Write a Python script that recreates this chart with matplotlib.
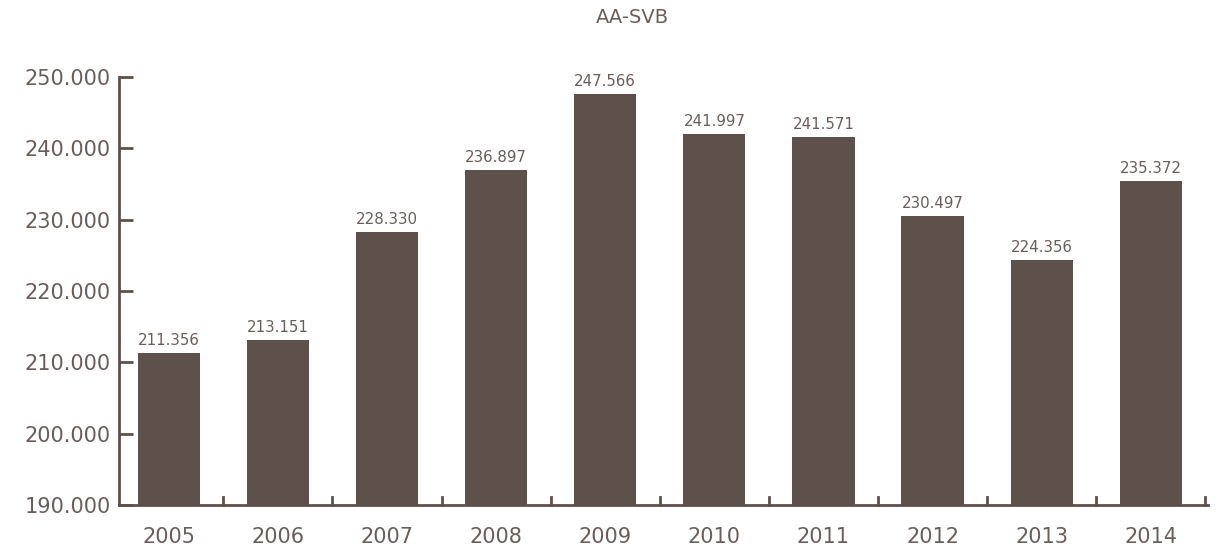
import matplotlib
matplotlib.use("Agg")
import matplotlib.pyplot as plt

years = ["2005", "2006", "2007", "2008", "2009", "2010", "2011", "2012", "2013", "2014"]
values = [211356, 213151, 228330, 236897, 247566, 241997, 241571, 230497, 224356, 235372]
yticks = [190000, 200000, 210000, 220000, 230000, 240000, 250000]
title = "AA-SVB"

bar_color = "#5e504b"
text_color = "#6b5e5a"

plt.rcParams["font.family"] = ["DejaVu Sans"]

fig = plt.figure(figsize=(12.21, 5.49), dpi=100)
ax = fig.add_axes([0.0975, 0.0801, 0.8915, 0.7796])

x = list(range(len(years)))
ax.bar(x, [v - 190000 for v in values], bottom=190000, width=0.57, color=bar_color, zorder=2)

for xi, v in zip(x, values):
    label = f"{v:,}".replace(",", ".")
    ax.text(xi, v + 700, label, ha="center", va="bottom", fontsize=10.8, color=text_color)

ax.set_ylim(190000, 250000)
ax.set_xlim(-0.455, 9.52)
ax.set_yticks(yticks)
ax.set_yticklabels([f"{t:,}".replace(",", ".") for t in yticks], fontsize=15, color=text_color)

ax.set_xticks(x)
ax.set_xticklabels(years, fontsize=15, color=text_color)
ax.tick_params(axis="x", length=0, pad=16)
ax.tick_params(axis="y", direction="in", length=10, width=2, color=bar_color, pad=6)

# boundary ticks between categories along the baseline
for b in [i + 0.5 for i in range(len(years))]:
    ax.plot([b, b], [190000, 191100], color=bar_color, lw=2, zorder=3, clip_on=False)

for side in ["top", "right"]:
    ax.spines[side].set_visible(False)
for side in ["left", "bottom"]:
    ax.spines[side].set_color(bar_color)
    ax.spines[side].set_linewidth(2)

fig.text(0.518, 0.968, title, ha="center", va="center", fontsize=14, color=text_color)

fig.savefig("out.png", dpi=100)
